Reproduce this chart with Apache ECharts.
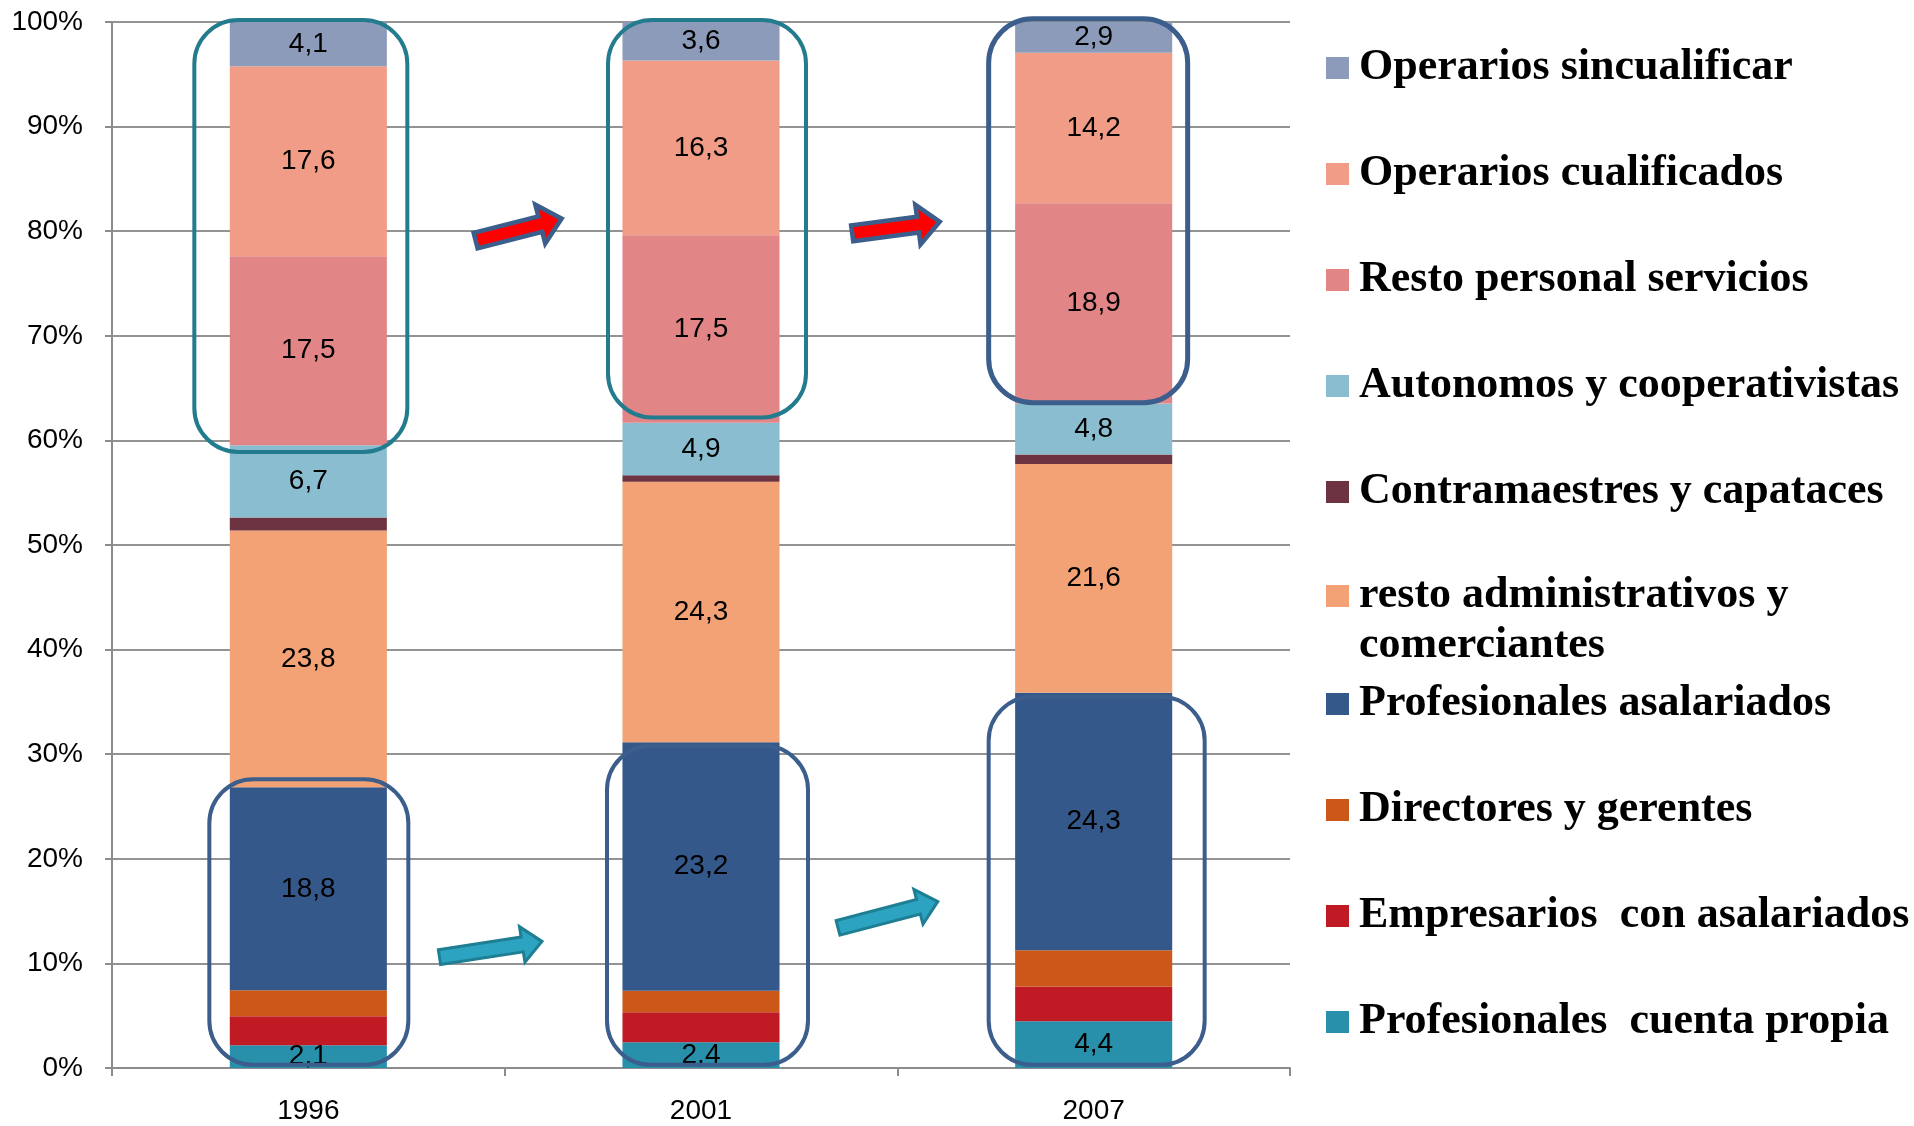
<!DOCTYPE html>
<html><head><meta charset="utf-8">
<script src="https://cdn.jsdelivr.net/npm/echarts@6/dist/echarts.min.js"></script>
<style>html,body{margin:0;padding:0;background:#fff}#c{width:1914px;height:1126px}</style>
</head><body><div id="c"></div>
<script>
// ---- data ----
const years = ['1996', '2001', '2007'];
const yTickLabels = ['0%', '10%', '20%', '30%', '40%', '50%', '60%', '70%', '80%', '90%', '100%'];
const seriesNames = [
  'Profesionales  cuenta propia',
  'Empresarios  con asalariados',
  'Directores y gerentes',
  'Profesionales asalariados',
  'resto administrativos y comerciantes',
  'Contramaestres y capataces',
  'Autonomos y cooperativistas',
  'Resto personal servicios',
  'Operarios cualificados',
  'Operarios sincualificar'
];
const profCuentaPropia = [2.1, 2.4, 4.4];
const empresarios = [2.7, 2.8, 3.3];
const directores = [2.4, 2.0, 3.4];
const profAsalariados = [18.8, 23.2, 24.3];
const restoAdmin = [23.8, 24.3, 21.6];
const contramaestres = [1.2, 0.6, 0.9];
const autonomos = [6.7, 4.9, 4.8];
const restoServicios = [17.5, 17.5, 18.9];
const operariosCual = [17.6, 16.3, 14.2];
const operariosSin = [4.1, 3.6, 2.9];
const labelled = [true, false, false, true, true, false, true, true, true, true];

// ---- styles ----
const colors = ['#2890AB', '#C01B24', '#CD5718', '#34588A', '#F2A275', '#6E3340', '#8ABDD0', '#E28587', '#F09C86', '#8C9BBA'];
const legendOrder = [9, 8, 7, 6, 5, 4, 3, 2, 1, 0];
const legendCenters = [68, 174, 280, 386, 492, 596, 704, 810, 916, 1022];

const rawSeries = [profCuentaPropia, empresarios, directores, profAsalariados, restoAdmin,
  contramaestres, autonomos, restoServicios, operariosCual, operariosSin];
const totals = years.map((_, i) => rawSeries.reduce((s, arr) => s + arr[i], 0));

const series = rawSeries.map((arr, si) => ({
  name: seriesNames[si],
  type: 'bar',
  stack: 'total',
  barWidth: '40%',
  itemStyle: { color: colors[si] },
  label: {
    show: labelled[si],
    position: 'inside',
    fontFamily: 'Liberation Sans, Arial, sans-serif',
    fontSize: 28,
    color: '#000',
    formatter: p => String(arr[p.dataIndex]).replace('.', ',')
  },
  emphasis: { disabled: true },
  data: arr.map((v, i) => v / totals[i] * 100)
}));

const legends = legendOrder.map((si, k) => {
  const two = si === 4;
  return {
    data: [seriesNames[si]],
    orient: 'vertical',
    left: 1326,
    top: two ? legendCenters[k] - 75 : legendCenters[k] - 22,
    padding: 0,
    itemWidth: 23,
    itemHeight: 22,
    icon: 'rect',
    selectedMode: false,
    formatter: two ? () => ' \nresto administrativos y\ncomerciantes' : undefined,
    textStyle: {
      fontFamily: 'Liberation Serif, Times New Roman, serif',
      fontWeight: 'bold',
      fontSize: 44,
      color: '#000',
      lineHeight: two ? 50 : 44,
      padding: [0, 0, 0, 5]
    }
  };
});

const axisGray = '#8C8C8C';
const option = {
  animation: false,
  backgroundColor: '#fff',
  grid: { left: 112, right: 624, top: 22, bottom: 58, containLabel: false },
  legend: legends,
  xAxis: {
    type: 'category',
    data: years,
    axisLine: { lineStyle: { color: axisGray, width: 2 } },
    axisTick: { show: true, length: 8, lineStyle: { color: axisGray, width: 2 } },
    axisLabel: { fontFamily: 'Liberation Sans, Arial, sans-serif', fontSize: 28, color: '#000', margin: 29 }
  },
  yAxis: {
    type: 'value',
    min: 0, max: 100, interval: 10,
    axisLine: { show: true, lineStyle: { color: axisGray, width: 2 } },
    axisTick: { show: true, length: 7, lineStyle: { color: axisGray, width: 2 } },
    splitLine: { show: true, lineStyle: { color: '#939393', width: 2 } },
    axisLabel: {
      fontFamily: 'Liberation Sans, Arial, sans-serif', fontSize: 28, color: '#000', margin: 29,
      formatter: v => yTickLabels[Math.round(v / 10)]
    }
  },
  series: series
};

const chart = echarts.init(document.getElementById('c'));
chart.setOption(option);

// ---- annotations (rounded boxes & arrows) positioned via the axes ----
const boxes = [
  { cat: 0, top: 100.2, bottom: 58.9, l: -114, r: 99, color: '#237B8E', w: 4 },
  { cat: 0, top: 27.6, bottom: 0.3, l: -99, r: 100, color: '#3B5E8C', w: 4 },
  { cat: 1, top: 100.2, bottom: 62.2, l: -93, r: 105, color: '#237B8E', w: 4 },
  { cat: 1, top: 30.8, bottom: 0.3, l: -94, r: 107, color: '#3B5E8C', w: 4 },
  { cat: 2, top: 100.3, bottom: 63.6, l: -105, r: 94, color: '#3B5E8C', w: 5 },
  { cat: 2, top: 35.5, bottom: 0.3, l: -105, r: 111, color: '#3B5E8C', w: 4 }
];
const arrows = [
  { t0: 0.426, v0: 79.1, t1: 0.645, v1: 81.2, hs: 8, hh: 20, hl: 22, fill: '#FF0000', stroke: '#3B5E8C', w: 4.5 },
  { t0: 1.385, v0: 79.8, t1: 1.608, v1: 80.9, hs: 8, hh: 20, hl: 22, fill: '#FF0000', stroke: '#3B5E8C', w: 4.5 },
  { t0: 0.334, v0: 10.6, t1: 0.595, v1: 12.1, hs: 7.5, hh: 18, hl: 20, fill: '#2CA3C0', stroke: '#1E7E93', w: 3 },
  { t0: 1.349, v0: 13.4, t1: 1.603, v1: 15.9, hs: 7.5, hh: 18, hl: 20, fill: '#2CA3C0', stroke: '#1E7E93', w: 3 }
];
function px(cat, val) { return chart.convertToPixel({ gridIndex: 0 }, [cat, val]); }
const c0 = px(0, 0), c1 = px(1, 0);
const catW = c1[0] - c0[0];
const xAt = t => c0[0] + t * catW;
const yAt = v => px(0, v)[1];

const graphics = [];
boxes.forEach(b => {
  const cx = px(b.cat, 0)[0];
  const y0 = yAt(b.top), y1 = yAt(b.bottom);
  graphics.push({
    type: 'rect', z: 100,
    shape: { x: cx + b.l, y: y0, width: b.r - b.l, height: y1 - y0, r: 44 },
    style: { fill: 'none', stroke: b.color, lineWidth: b.w }
  });
});
arrows.forEach(a => {
  const T = [xAt(a.t0), yAt(a.v0)], P = [xAt(a.t1), yAt(a.v1)];
  const dx = P[0] - T[0], dy = P[1] - T[1], len = Math.hypot(dx, dy);
  const u = [dx / len, dy / len], n = [-u[1], u[0]];
  const B = [P[0] - u[0] * a.hl, P[1] - u[1] * a.hl];
  const pt = (base, k) => [base[0] + n[0] * k, base[1] + n[1] * k];
  graphics.push({
    type: 'polygon', z: 100,
    shape: { points: [pt(T, a.hs), pt(B, a.hs), pt(B, a.hh), P, pt(B, -a.hh), pt(B, -a.hs), pt(T, -a.hs)] },
    style: { fill: a.fill, stroke: a.stroke, lineWidth: a.w, lineJoin: 'miter' }
  });
});
chart.setOption({ graphic: graphics });
</script>
</body></html>
